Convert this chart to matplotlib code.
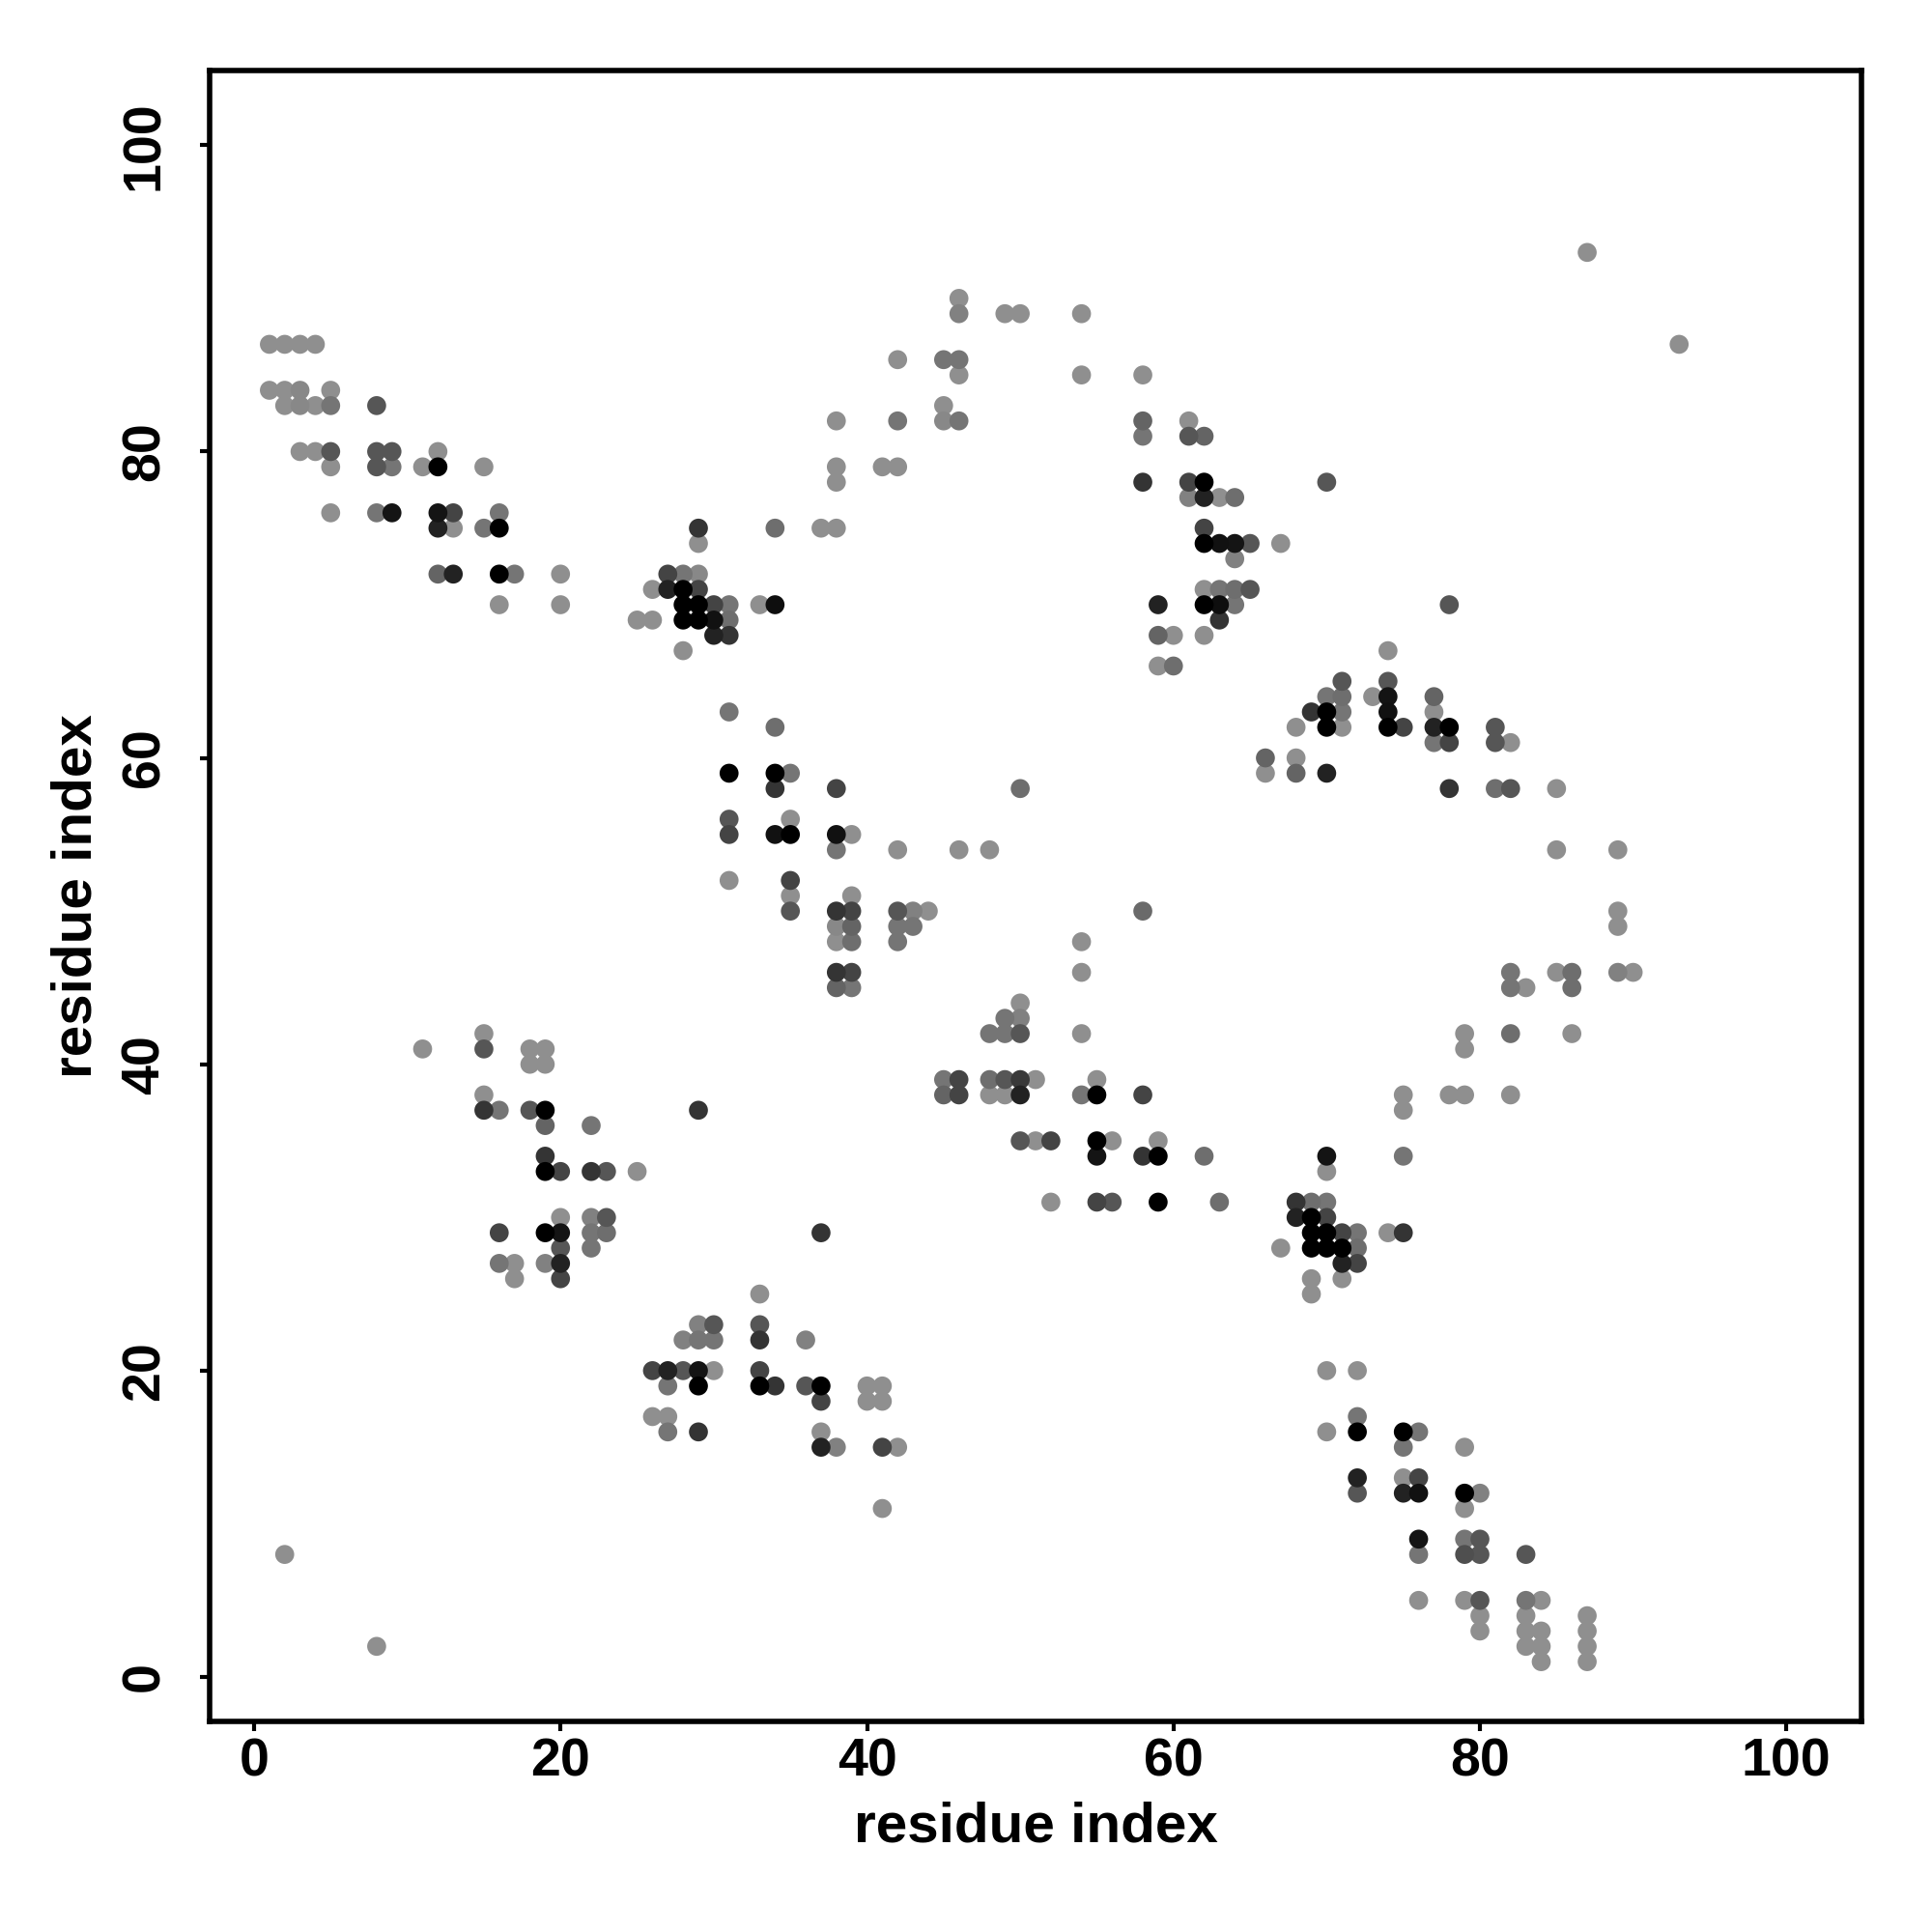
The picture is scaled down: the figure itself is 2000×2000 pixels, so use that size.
import numpy as np
import matplotlib.pyplot as plt
from matplotlib.colors import LinearSegmentedColormap

# Contact map: (residue i, residue j, contact strength 0..1)
# strength 0 -> light grey, 1 -> black

nterm_block = [
    (1, 87, 0), (2, 87, 0), (3, 87, 0), (4, 87, 0),
    (1, 84, 0), (2, 84, 0), (3, 84, 0.05), (5, 84, 0),
    (2, 83, 0), (3, 83, 0.05), (4, 83, 0), (5, 83, 0.18), (8, 83, 0.4),
    (3, 80, 0), (4, 80, 0), (5, 80, 0.4), (8, 80, 0.4), (9, 80, 0.4), (12, 80, 0),
    (5, 79, 0), (8, 79, 0.4), (9, 79, 0.18), (11, 79, 0), (12, 79, 1.0), (15, 79, 0),
    (5, 76, 0), (8, 76, 0.18), (9, 76, 0.86), (12, 76, 0.86), (13, 76, 0.52), (16, 76, 0.18),
    (12, 75, 0.76), (13, 75, 0), (15, 75, 0.18), (16, 75, 1.0),
    (12, 72, 0.3), (13, 72, 0.76), (16, 72, 1.0), (17, 72, 0.18), (20, 72, 0),
    (16, 70, 0), (20, 70, 0),
    (25, 69, 0), (26, 69, 0), (26, 71, 0),
]

block_28_70 = [
    (29, 75, 0.64), (34, 75, 0.23), (37, 75, 0), (38, 75, 0),
    (29, 74, 0),
    (27, 72, 0.52), (28, 72, 0.18), (29, 72, 0.05),
    (27, 71, 0.76), (28, 71, 1.0), (29, 71, 0.52),
    (28, 70, 1.0), (29, 70, 1.0), (30, 70, 0.52), (31, 70, 0.18), (33, 70, 0), (34, 70, 0.9),
    (28, 69, 1.0), (29, 69, 1.0), (30, 69, 0.88), (31, 69, 0.23),
    (30, 68, 0.76), (31, 68, 0.64),
    (28, 67, 0),
]

upper_arc = [
    (38, 82, 0), (38, 79, 0), (38, 78, 0), (41, 79, 0), (42, 79, 0),
    (42, 86, 0), (42, 82, 0.18),
    (45, 86, 0.18), (46, 86, 0.18), (46, 85, 0), (45, 83, 0), (45, 82, 0.05), (46, 82, 0.18),
    (46, 90, 0), (46, 89, 0.1), (49, 89, 0), (50, 89, 0), (54, 89, 0),
    (54, 85, 0), (58, 85, 0),
    (87, 93, 0), (93, 87, 0),
]

block_62_74 = [
    (58, 82, 0.3), (61, 82, 0),
    (58, 81, 0.18), (61, 81, 0.4), (62, 81, 0.3),
    (58, 78, 0.64), (61, 78, 0.52), (62, 78, 1.0), (70, 78, 0.4),
    (61, 77, 0.1), (62, 77, 0.76), (63, 77, 0), (64, 77, 0.23),
    (62, 75, 0.52),
    (62, 74, 1.0), (63, 74, 0.88), (64, 74, 0.86), (65, 74, 0.4), (67, 74, 0),
    (64, 73, 0.1),
    (62, 71, 0), (63, 71, 0.18), (64, 71, 0.23), (65, 71, 0.4),
    (59, 70, 0.76), (62, 70, 1.0), (63, 70, 0.9), (64, 70, 0.18), (78, 70, 0.4),
    (63, 69, 0.64),
    (59, 68, 0.3), (60, 68, 0), (62, 68, 0),
    (59, 66, 0), (60, 66, 0.23),
]

block_74_62 = [
    (74, 67, 0),
    (71, 65, 0.4), (74, 65, 0.4),
    (70, 64, 0.18), (71, 64, 0.23), (73, 64, 0), (74, 64, 0.86), (77, 64, 0.3),
    (69, 63, 0.64), (70, 63, 1.0), (71, 63, 0.18), (74, 63, 0.88), (77, 63, 0),
    (68, 62, 0), (70, 62, 1.0), (71, 62, 0), (74, 62, 1.0), (75, 62, 0.52),
    (77, 62, 0.76), (78, 62, 1.0), (81, 62, 0.4),
    (77, 61, 0.18), (78, 61, 0.52), (81, 61, 0.4), (82, 61, 0),
    (66, 60, 0.3), (68, 60, 0),
    (66, 59, 0), (68, 59, 0.3), (70, 59, 0.76),
    (78, 58, 0.64), (81, 58, 0.23), (82, 58, 0.4), (85, 58, 0),
]

right_arc = [
    (85, 54, 0), (89, 54, 0), (89, 50, 0), (89, 49, 0),
    (82, 46, 0.18), (85, 46, 0), (86, 46, 0.23), (89, 46, 0.1), (90, 46, 0),
    (82, 45, 0.18), (83, 45, 0), (86, 45, 0.23),
    (79, 42, 0), (82, 42, 0.23), (86, 42, 0),
    (79, 41, 0),
    (75, 38, 0), (78, 38, 0), (79, 38, 0), (82, 38, 0),
    (75, 37, 0), (75, 34, 0.18),
]

block_35_55 = [
    (31, 63, 0.18), (34, 62, 0.23),
    (31, 59, 1.0), (34, 59, 1.0), (35, 59, 0.18),
    (34, 58, 0.64), (38, 58, 0.52), (50, 58, 0.23),
    (31, 56, 0.4), (35, 56, 0),
    (31, 55, 0.52), (34, 55, 0.88), (35, 55, 1.0), (38, 55, 0.88), (39, 55, 0),
    (38, 54, 0.18), (42, 54, 0), (46, 54, 0), (48, 54, 0),
    (31, 52, 0), (35, 52, 0.52),
    (35, 51, 0), (39, 51, 0),
    (35, 50, 0.4), (38, 50, 0.64), (39, 50, 0.52), (42, 50, 0.4), (43, 50, 0.1), (44, 50, 0),
    (38, 49, 0.05), (39, 49, 0.3), (42, 49, 0.18), (43, 49, 0.18),
    (38, 48, 0), (39, 48, 0.23), (42, 48, 0.18),
    (38, 46, 0.64), (39, 46, 0.52),
    (38, 45, 0.3), (39, 45, 0.18),
]

block_52_37 = [
    (58, 50, 0.26), (54, 48, 0), (54, 46, 0),
    (50, 44, 0), (49, 43, 0.18), (50, 43, 0.1),
    (48, 42, 0.18), (49, 42, 0.18), (50, 42, 0.4), (54, 42, 0),
    (45, 39, 0.18), (46, 39, 0.52), (48, 39, 0.23), (49, 39, 0.4), (50, 39, 0.6),
    (51, 39, 0), (55, 39, 0),
    (45, 38, 0.3), (46, 38, 0.52), (48, 38, 0), (49, 38, 0), (50, 38, 0.76),
    (54, 38, 0.18), (55, 38, 1.0), (58, 38, 0.52),
    (50, 35, 0.4), (51, 35, 0), (52, 35, 0.52), (55, 35, 1.0), (56, 35, 0), (59, 35, 0),
    (55, 34, 0.86), (58, 34, 0.64), (59, 34, 1.0), (62, 34, 0.23),
    (52, 31, 0), (55, 31, 0.52), (56, 31, 0.4), (59, 31, 1.0), (63, 31, 0.23),
]

block_70_29 = [
    (70, 34, 0.86), (70, 33, 0),
    (68, 31, 0.64), (69, 31, 0.23), (70, 31, 0.18),
    (68, 30, 0.76), (69, 30, 1.0), (70, 30, 0.52),
    (69, 29, 1.0), (70, 29, 1.0), (71, 29, 0.52), (72, 29, 0.18), (74, 29, 0), (75, 29, 0.64),
    (67, 28, 0), (69, 28, 1.0), (70, 28, 1.0), (71, 28, 1.0), (72, 28, 0.23),
    (71, 27, 0.76), (72, 27, 0.52),
    (69, 26, 0), (71, 26, 0),
    (69, 25, 0),
]

cterm_block = [
    (70, 20, 0), (72, 20, 0),
    (72, 17, 0.18),
    (70, 16, 0), (72, 16, 1.0), (75, 16, 1.0), (76, 16, 0.18),
    (75, 15, 0.18), (79, 15, 0),
    (72, 13, 0.76), (75, 13, 0), (76, 13, 0.52),
    (72, 12, 0.4), (75, 12, 0.76), (76, 12, 0.88), (79, 12, 1.0), (80, 12, 0.1),
    (79, 11, 0),
    (76, 9, 0.86), (79, 9, 0.18), (80, 9, 0.4),
    (76, 8, 0.18), (79, 8, 0.45), (80, 8, 0.4), (83, 8, 0.4),
    (76, 5, 0), (79, 5, 0), (80, 5, 0.4), (83, 5, 0.18), (84, 5, 0),
    (80, 4, 0), (83, 4, 0), (87, 4, 0),
    (80, 3, 0), (83, 3, 0), (84, 3, 0), (87, 3, 0),
    (83, 2, 0), (84, 2, 0), (87, 2, 0),
    (84, 1, 0), (87, 1, 0),
]

block_19_33 = [
    (11, 41, 0), (15, 42, 0), (15, 41, 0.4), (18, 41, 0), (19, 41, 0), (18, 40, 0), (19, 40, 0),
    (15, 38, 0), (15, 37, 0.64), (16, 37, 0.18), (18, 37, 0.4), (19, 37, 1.0),
    (19, 36, 0.3), (22, 36, 0.18),
    (19, 34, 0.64),
    (19, 33, 1.0), (20, 33, 0.52), (22, 33, 0.64), (23, 33, 0.4), (25, 33, 0),
    (20, 30, 0), (22, 30, 0.1), (23, 30, 0.4),
    (16, 29, 0.52), (19, 29, 1.0), (20, 29, 0.86), (22, 29, 0.18), (23, 29, 0.23),
    (20, 28, 0.4), (22, 28, 0.18),
    (16, 27, 0.18), (17, 27, 0), (19, 27, 0.1), (20, 27, 0.76),
    (17, 26, 0), (20, 26, 0.52),
    (29, 37, 0.64), (37, 29, 0.64),
]

block_32_20 = [
    (33, 25, 0),
    (29, 23, 0.1), (30, 23, 0.4), (33, 23, 0.4),
    (28, 22, 0.1), (29, 22, 0.18), (30, 22, 0.18), (33, 22, 0.64), (36, 22, 0.1),
    (26, 20, 0.52), (27, 20, 0.76), (28, 20, 0.4), (29, 20, 0.86), (30, 20, 0), (33, 20, 0.52),
    (27, 19, 0.18), (29, 19, 1.0), (33, 19, 1.0), (34, 19, 0.64), (36, 19, 0.4), (37, 19, 1.0),
    (40, 19, 0), (41, 19, 0),
    (37, 18, 0.52), (40, 18, 0), (41, 18, 0),
    (26, 17, 0), (27, 17, 0),
    (27, 16, 0.18), (29, 16, 0.64), (37, 16, 0),
    (37, 15, 0.76), (38, 15, 0.1), (41, 15, 0.52), (42, 15, 0),
    (41, 11, 0),
    (2, 8, 0), (8, 2, 0),
]

blocks = [nterm_block, block_28_70, upper_arc, block_62_74, block_74_62, right_arc,
          block_35_55, block_52_37, block_70_29, cterm_block, block_19_33, block_32_20]

data = np.array([p for b in blocks for p in b], dtype=float)
order = np.argsort(data[:, 2], kind="stable")
data = data[order]

plt.rcParams['font.family'] = ['Liberation Sans', 'DejaVu Sans']
plt.rcParams['font.weight'] = 'bold'

cmap = LinearSegmentedColormap.from_list("contact", ["#8f8f8f", "#000000"])

fig = plt.figure(figsize=(10, 10), dpi=200)
ax = fig.add_axes([0.1085, 0.109, 0.855, 0.8547])

ax.scatter(data[:, 0], data[:, 1], c=data[:, 2], cmap=cmap, vmin=0, vmax=1,
           s=50, linewidths=0, zorder=3)

ax.set_xlim(-2.9, 104.9)
ax.set_ylim(-2.9, 104.9)
ax.set_xticks(np.arange(0, 101, 20))
ax.set_yticks(np.arange(0, 101, 20))

for sp in ax.spines.values():
    sp.set_linewidth(2.0)

ax.tick_params(axis='both', direction='out', length=3.6, width=1.5, labelsize=20)
ax.tick_params(axis='x', pad=2.5)
ax.tick_params(axis='y', pad=11)
for lab in ax.get_yticklabels():
    lab.set_rotation(90)
    lab.set_va('center')
    lab.set_fontweight('bold')
for lab in ax.get_xticklabels():
    lab.set_fontweight('bold')

ax.set_xlabel("residue index", fontsize=21, fontweight='bold')
ax.set_ylabel("residue index", fontsize=21, fontweight='bold')
ax.xaxis.set_label_coords(0.5, -0.064)
ax.xaxis.label.set_va('center')
ax.yaxis.set_label_coords(-0.0807, 0.5)
ax.yaxis.label.set_va('center')

plt.savefig("out.png", dpi=200)
